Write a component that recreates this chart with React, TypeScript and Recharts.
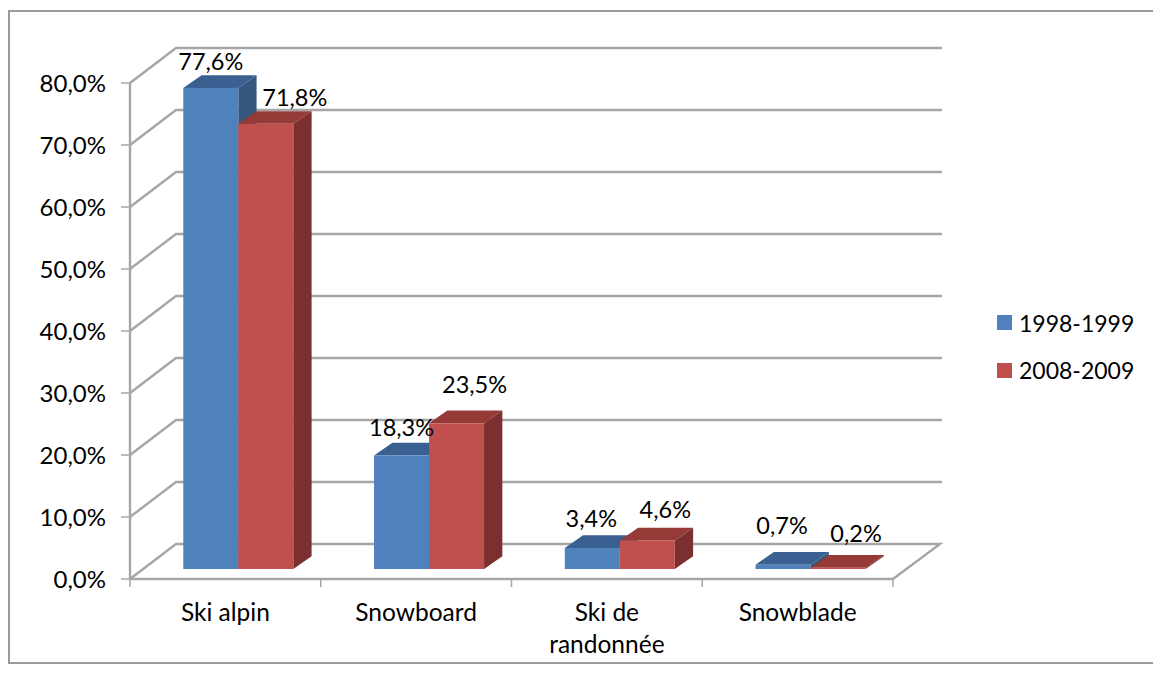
import React from 'react';
import { BarChart, Bar, XAxis, YAxis, CartesianGrid, Legend, LabelList } from 'recharts';

const categories = ['Ski alpin', 'Snowboard', 'Ski de randonnée', 'Snowblade'];
const season1998 = [77.6, 18.3, 3.4, 0.7];
const season2008 = [71.8, 23.5, 4.6, 0.2];
const yTicks = [0, 10, 20, 30, 40, 50, 60, 70, 80];
const seasonNames = ['1998-1999', '2008-2009'];

const data = categories.map((name, i) => ({ name, a: season1998[i], b: season2008[i] }));

const W = 1153, H = 680;
const LEFT = 130, RIGHT = 893, TOP = 83, BOTTOM = 579;
const WALL_DX = 46, WALL_DY = -35;
const BAR_DX = 13.3, BAR_DY = -10;
const DEPTH_X = 18.3, DEPTH_Y = -12.7;
const AXIS = '#A6A6A6';
const FONT = 'Lato, sans-serif';
const STEP = (RIGHT - LEFT) / categories.length;

const fmt = (v: number) => v.toFixed(1).replace('.', ',') + '%';

const Bar3D = (faces: { front: string; top: string; side: string }) => (p: any) => {
  const x = p.x + BAR_DX, y = p.y + BAR_DY, w = p.width, h = p.height;
  const pts = (a: number[][]) => a.map((q) => q.join(',')).join(' ');
  return (
    <g>
      <polygon fill={faces.top} points={pts([[x, y], [x + w, y], [x + w + DEPTH_X, y + DEPTH_Y], [x + DEPTH_X, y + DEPTH_Y]])} />
      <polygon fill={faces.side} points={pts([[x + w, y], [x + w + DEPTH_X, y + DEPTH_Y], [x + w + DEPTH_X, y + h + DEPTH_Y], [x + w, y + h]])} />
      <rect x={x} y={y} width={w} height={h} fill={faces.front} />
    </g>
  );
};

const WallLine = (p: any) => {
  const y = p.y1;
  const isFloor = Math.abs(y - BOTTOM) < 1;
  const pts = isFloor
    ? `${p.x1},${y} ${p.x1 + WALL_DX},${y + WALL_DY} ${p.x2 + WALL_DX + 1},${y + WALL_DY} ${p.x2},${y}`
    : `${p.x1},${y} ${p.x1 + WALL_DX},${y + WALL_DY} ${p.x2 + WALL_DX + 3},${y + WALL_DY}`;
  return <polyline key={p.key} points={pts} fill="none" stroke={AXIS} strokeWidth={2.4} />;
};

const wrapLabel = (label: string): string[] => {
  if (label.length <= 12) return [label];
  const cut = label.lastIndexOf(' ');
  return [label.slice(0, cut), label.slice(cut + 1)];
};

const XTick = (p: any) => {
  const { x, payload, index } = p;
  return (
    <g>
      <line x1={x - STEP / 2} x2={x - STEP / 2} y1={BOTTOM} y2={BOTTOM + 8} stroke={AXIS} strokeWidth={1.5} />
      {index === categories.length - 1 && (
        <line x1={x + STEP / 2} x2={x + STEP / 2} y1={BOTTOM} y2={BOTTOM + 8} stroke={AXIS} strokeWidth={1.5} />
      )}
      <text textAnchor="middle" fontFamily={FONT} fontSize={24.5} fill="#000">
        {wrapLabel(payload.value).map((line, i) => (
          <tspan key={line} x={x} y={BOTTOM + 42 + i * 31.5}>{line}</tspan>
        ))}
      </text>
    </g>
  );
};

const labelNudges: Record<string, number[][]> = {
  a: [[0, -27], [0, -29], [-1, -30], [-1, -40]],
  b: [[29, -27], [18, -39], [18, -31], [18, -35]],
};

const makeLabel = (key: string) => (p: any) => {
  const [dx, dy] = labelNudges[key][p.index];
  return (
    <text x={p.x + BAR_DX + p.width / 2 + dx} y={p.y + BAR_DY + dy} textAnchor="middle" dominantBaseline="central" fontFamily={FONT} fontSize={23.5} fill="#000">
      {fmt(p.value)}
    </text>
  );
};

const legendColors = ['#4F81BD', '#C0504D'];
const LegendBox = () => (
  <div style={{ fontFamily: FONT, fontSize: 23, color: '#000' }}>
    {seasonNames.map((n, i) => (
      <div key={n} style={{ display: 'flex', alignItems: 'center', height: 47.5 }}>
        <span style={{ width: 15, height: 15, background: legendColors[i], marginRight: 7, display: 'inline-block' }} />
        {n}
      </div>
    ))}
  </div>
);

export default function App() {
  return (
    <div style={{ position: 'absolute', left: 0, top: 0, width: W, height: H, background: '#fff', overflow: 'hidden' }}>
      <div style={{ position: 'absolute', left: 8, top: 10, width: 1160, height: 650, border: '2px solid #9A9A9A' }} />
      <BarChart
        width={W}
        height={H}
        data={data}
        margin={{ top: TOP, right: W - RIGHT, bottom: 0, left: 0 }}
        barSize={55}
        barGap={0}
        style={{ position: 'absolute', left: 0, top: 0 }}
      >
        <CartesianGrid vertical={false} horizontal={WallLine} />
        <XAxis
          dataKey="name"
          height={H - BOTTOM}
          axisLine={{ stroke: AXIS, strokeWidth: 2.4 }}
          tickLine={false}
          interval={0}
          tick={XTick}
        />
        <YAxis
          width={LEFT}
          domain={[0, 80]}
          ticks={yTicks}
          interval={0}
          tickFormatter={fmt}
          axisLine={{ stroke: AXIS, strokeWidth: 2.4 }}
          tickLine={{ stroke: AXIS, strokeWidth: 1.5 }}
          tickSize={9}
          tickMargin={15}
          tick={{ fontFamily: FONT, fontSize: 24, fill: '#000' }}
        />
        <Legend
          layout="vertical"
          align="center"
          verticalAlign="middle"
          content={LegendBox}
          wrapperStyle={{ position: 'absolute', left: 997, top: 299, width: 150, height: 95 }}
        />
        <Bar dataKey="a" name={seasonNames[0]} fill="#4F81BD" isAnimationActive={false} shape={Bar3D({ front: '#4F81BD', top: '#3A6091', side: '#36587F' })}>
          <LabelList dataKey="a" content={makeLabel('a')} />
        </Bar>
        <Bar dataKey="b" name={seasonNames[1]} fill="#C0504D" isAnimationActive={false} shape={Bar3D({ front: '#C0504D', top: '#963A37', side: '#7B2F2E' })}>
          <LabelList dataKey="b" content={makeLabel('b')} />
        </Bar>
      </BarChart>
    </div>
  );
}
